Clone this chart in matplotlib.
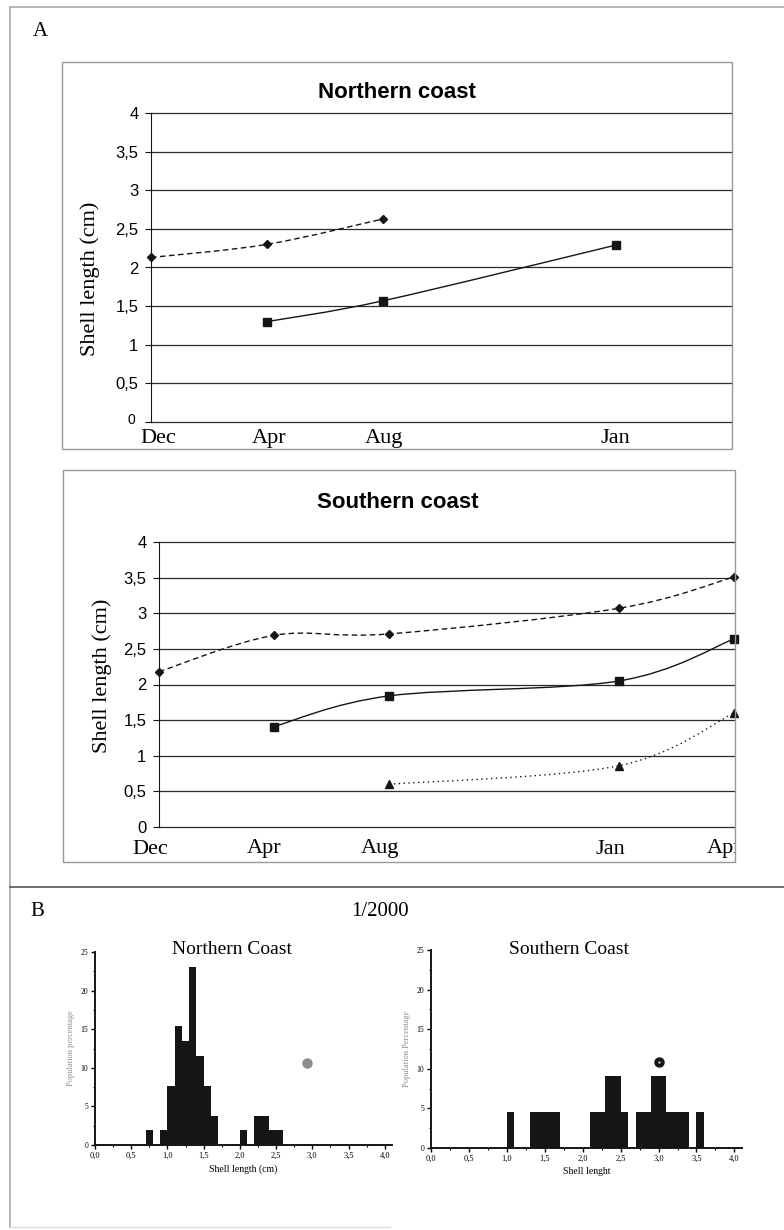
import numpy as np
import matplotlib
matplotlib.use("Agg")
import matplotlib.pyplot as plt
from matplotlib.path import Path
from matplotlib.patches import PathPatch, Rectangle
from matplotlib.lines import Line2D
from matplotlib.transforms import ScaledTranslation

W, H = 784, 1230

# --- panel A: mean shell length per sampling date ---
# category axis, with an empty slot between Aug and Jan
north_months = ["Dec", "Apr", "Aug", "", "Jan", ""]
south_months = ["Dec", "Apr", "Aug", "", "Jan", "Apr"]

north_dash_x = [0, 1, 2]
north_dash = [2.13, 2.30, 2.63]
north_solid_x = [1, 2, 4]
north_solid = [1.30, 1.57, 2.29]

south_dash_x = [0, 1, 2, 4, 5]
south_dash = [2.18, 2.69, 2.71, 3.07, 3.51]
south_solid_x = [1, 2, 4, 5]
south_solid = [1.41, 1.84, 2.05, 2.64]
south_dot_x = [2, 4, 5]
south_dot = [0.60, 0.86, 1.60]

y_ticks = [0, 0.5, 1, 1.5, 2, 2.5, 3, 3.5, 4]
y_ticklabels = ["0", "0,5", "1", "1,5", "2", "2,5", "3", "3,5", "4"]

# --- panel B: size distribution 1/2000 (bin left edge, % of population) ---
north_bins = [0.7, 0.9, 1.0, 1.1, 1.2, 1.3, 1.4, 1.5, 1.6, 2.0, 2.2, 2.3, 2.4, 2.5]
north_pct = [1.9, 1.9, 7.7, 15.4, 13.5, 23.1, 11.5, 7.7, 3.8, 1.9, 3.8, 3.8, 1.9, 1.9]
south_bins = [1.0, 1.3, 1.4, 1.5, 1.6, 2.1, 2.2, 2.3, 2.4, 2.5,
              2.7, 2.8, 2.9, 3.0, 3.1, 3.2, 3.3, 3.5]
south_pct = [4.5, 4.5, 4.5, 4.5, 4.5, 4.5, 4.5, 9.1, 9.1, 4.5,
             4.5, 4.5, 9.1, 9.1, 4.5, 4.5, 4.5, 4.5]
bin_width = 0.1
north_mark = (2.92, 10.6)
south_mark = (3.01, 10.8)

hist_xticks = [0, 0.5, 1, 1.5, 2, 2.5, 3, 3.5, 4]
hist_xticklabels = ["0,0", "0,5", "1,0", "1,5", "2,0", "2,5", "3,0", "3,5", "4,0"]
hist_yticks = [0, 5, 10, 15, 20, 25]

SERIF = ["Liberation Serif", "DejaVu Serif"]
SANS = ["Liberation Sans", "DejaVu Sans"]
INK = "#151515"


def box(l, t, r, b):
    return [l / W, 1 - b / H, (r - l) / W, (b - t) / H]


def fx(x):
    return x / W


def fy(y):
    return 1 - y / H


def smooth_path(x, y, t=1 / 6):
    # Excel-like smoothed line as cubic Bezier segments
    pts = np.column_stack([np.asarray(x, float), np.asarray(y, float)])
    n = len(pts)
    verts = [pts[0]]
    codes = [Path.MOVETO]
    for i in range(n - 1):
        p0 = pts[max(i - 1, 0)]
        p1 = pts[i]
        p2 = pts[i + 1]
        p3 = pts[min(i + 2, n - 1)]
        verts += [p1 + (p2 - p0) * t, p2 - (p3 - p1) * t, p2]
        codes += [Path.CURVE4] * 3
    return Path(verts, codes)


def series(ax, x, y, ls, marker, ms):
    ax.add_patch(PathPatch(smooth_path(x, y), fill=False, ec=INK, lw=1.0,
                           linestyle=ls, clip_on=False))
    ax.plot(x, y, ls="none", marker=marker, ms=ms, color=INK, clip_on=False)


def line_axes(rect, months, xpad, shifts):
    ax = fig.add_axes(rect)
    ax.set_xlim(0, len(months) - 1)
    ax.set_ylim(0, 4)
    for s in ["top", "right", "bottom"]:
        ax.spines[s].set_visible(False)
    ax.spines["left"].set_color(INK)
    for yv in y_ticks:
        ax.axhline(yv, color="#2a2a2a", lw=0.9, clip_on=False, zorder=0)
    ax.set_yticks(y_ticks)
    ax.set_yticklabels(y_ticklabels, family=SANS, fontsize=12)
    ax.set_xticks(range(len(months)))
    ax.set_xticklabels(months, family=SERIF, fontsize=16)
    ax.tick_params(axis="y", direction="out", length=4, pad=5, color=INK)
    ax.tick_params(axis="x", length=0, pad=xpad)
    # month labels sit a little off their category in the original
    for lab, dx in zip(ax.get_xticklabels(), shifts):
        lab.set_transform(lab.get_transform()
                          + ScaledTranslation(dx / 100, 0, fig.dpi_scale_trans))
    return ax


fig = plt.figure(figsize=(W / 100, H / 100), dpi=100)

# frame lines of the figure plate
grey = "#a8a8a8"
fig.add_artist(Line2D([fx(10), 1], [fy(7), fy(7)], color=grey, lw=1.2))
fig.add_artist(Line2D([fx(10), fx(10)], [fy(7), fy(1227)], color=grey, lw=1.2))
fig.add_artist(Line2D([fx(10), 1], [fy(887), fy(887)], color="#555555", lw=1.2))
fig.add_artist(Line2D([fx(10), fx(390)], [fy(1227), fy(1227)], color="#dddddd", lw=1.0))

fig.text(fx(40), fy(32), "A", family=SERIF, fontsize=15, ha="center", va="center")
fig.text(fx(37), fy(912), "B", family=SERIF, fontsize=15, ha="center", va="center")
fig.text(fx(380), fy(912), "1/2000", family=SERIF, fontsize=15, ha="center", va="center")

# chart boxes
box_top = Rectangle((fx(62), fy(449)), (732 - 62) / W, (449 - 62) / H,
                    transform=fig.transFigure, fill=False, ec="#999999", lw=1.0)
box_bot = Rectangle((fx(63), fy(862)), (735 - 63) / W, (862 - 470) / H,
                    transform=fig.transFigure, fill=False, ec="#999999", lw=1.0)
fig.add_artist(box_top)
fig.add_artist(box_bot)

# Northern coast line chart
ax1 = line_axes(box(151, 113, 732, 422), north_months, 5, [7, 2, 1, 0, 0, 0])
series(ax1, north_dash_x, north_dash, (0, (4, 2.5)), "D", 4.5)
series(ax1, north_solid_x, north_solid, "-", "s", 5.5)
# the "0" of the top chart is small and sits a bit high in the original
zero_lab = ax1.get_yticklabels()[0]
zero_lab.set_fontsize(10)
zero_lab.set_transform(zero_lab.get_transform()
                       + ScaledTranslation(-0.03, 0.03, fig.dpi_scale_trans))
fig.text(fx(397), fy(93), "Northern coast", family=SANS, fontsize=16,
         weight="bold", ha="center", va="center")
fig.text(fx(90), fy(279), "Shell length (cm)", family=SERIF, fontsize=16,
         rotation=90, ha="center", va="center")

# Southern coast line chart
ax2 = line_axes(box(159, 542, 734, 827), south_months, 9, [-9, -10, -9, 0, -9, -10])
series(ax2, south_dash_x, south_dash, (0, (4, 2.5)), "D", 4.5)
series(ax2, south_solid_x, south_solid, "-", "s", 5.5)
series(ax2, south_dot_x, south_dot, (0, (1, 2.5)), "^", 5.5)
# last "Apr" is cut by the chart frame in the original
ax2.get_xticklabels()[-1].set_clip_path(box_bot)
fig.text(fx(398), fy(503), "Southern coast", family=SANS, fontsize=16,
         weight="bold", ha="center", va="center")
fig.text(fx(102), fy(676), "Shell length (cm)", family=SERIF, fontsize=16,
         rotation=90, ha="center", va="center")


def hist_axes(rect, bins, pct, mark, mark_color, title, tx, xlabel, ylabel):
    ax = fig.add_axes(rect)
    ax.bar(bins, pct, width=bin_width, align="edge", color=INK, lw=0)
    ax.plot([0, 4], [0, 0], color=INK, lw=0.8)
    ax.plot([mark[0]], [mark[1]], ls="none", marker="o", ms=6.5,
            color=mark_color, mec=mark_color)
    ax.set_xlim(0, 4.1)
    ax.set_ylim(0, 25)
    for s in ["top", "right"]:
        ax.spines[s].set_visible(False)
    for s in ["left", "bottom"]:
        ax.spines[s].set_linewidth(1.4)
        ax.spines[s].set_color(INK)
    ax.set_xticks(hist_xticks)
    ax.set_xticklabels(hist_xticklabels, family=SERIF, fontsize=6)
    ax.set_xticks(np.arange(0.25, 4.0, 0.5), minor=True)
    ax.set_yticks(hist_yticks)
    ax.set_yticklabels([str(v) for v in hist_yticks], family=SERIF, fontsize=5.5)
    ax.set_yticks([2.5, 7.5, 12.5, 17.5, 22.5], minor=True)
    ax.tick_params(which="major", direction="out", length=3, width=1, pad=2)
    ax.tick_params(which="minor", direction="out", length=1.5, width=0.8)
    ax.set_xlabel(xlabel, family=SERIF, fontsize=7, labelpad=3)
    ax.set_ylabel(ylabel, family=SERIF, fontsize=6, color="#8a8a8a", labelpad=4)
    fig.text(fx(tx), fy(950), title, family=SERIF, fontsize=14,
             ha="center", va="center")
    return ax


hist_axes(box(95, 952, 392, 1145), north_bins, north_pct, north_mark, "#8c8c8c",
          "Northern Coast", 232, "Shell length (cm)", "Population percentage")
ax4 = hist_axes(box(431, 950, 742, 1148), south_bins, south_pct, south_mark, INK,
                "Southern Coast", 569, "Shell lenght", "Population Percentage")
# small light fleck inside the black dot
ax4.plot([south_mark[0]], [south_mark[1]], ls="none", marker="o", ms=1.8,
         color="#bbbbbb", mec="none")

fig.savefig("out.png", dpi=100)
